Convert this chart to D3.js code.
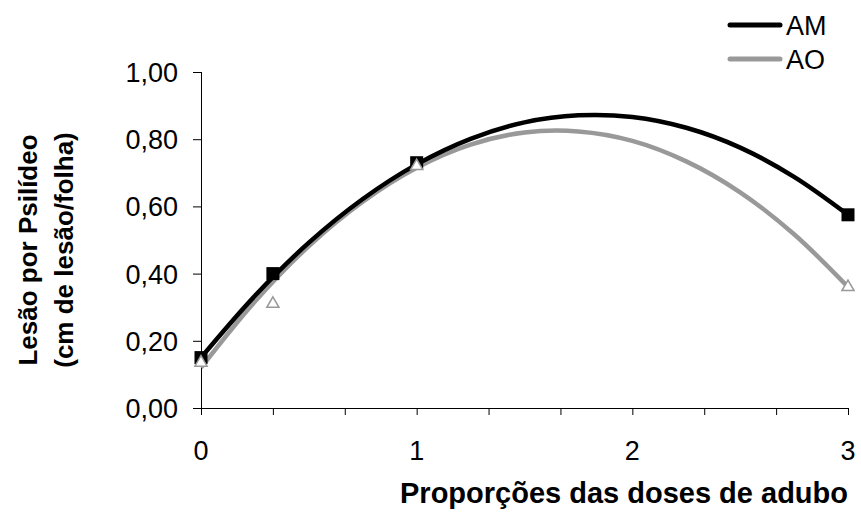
<!DOCTYPE html>
<html>
<head>
<meta charset="utf-8">
<script src="https://cdn.jsdelivr.net/npm/d3@7"></script>
<style>
	body { margin: 0; background: #fff; }
	text { font-family: "Liberation Sans", Arial, sans-serif; fill: #000; }
	.tick-label { font-size: 27px; }
	.title { font-size: 29px; font-weight: bold; }
	.ytitle { font-size: 26px; font-weight: bold; }
</style>
</head>
<body>
<svg id="chart" width="861" height="517"></svg>
<script>
// observed means
const doses = [0, 1 / 3, 1, 3];
const amValues = [0.15, 0.40, 0.73, 0.575];
const aoValues = [0.135, 0.31, 0.72, 0.36];

// trend lines
const trendX = [0, 0.25, 0.5, 0.75, 1, 1.25, 1.5, 1.75, 2, 2.25, 2.5, 2.75, 3];
const amTrend = [0.15, 0.334, 0.492, 0.622, 0.725, 0.801, 0.85, 0.871, 0.866, 0.834, 0.775, 0.688, 0.575];
const aoTrend = [0.12, 0.317, 0.482, 0.614, 0.715, 0.784, 0.82, 0.823, 0.795, 0.734, 0.642, 0.517, 0.36];

const xTicks = [0, 1, 2, 3];
const yTicks = [0, 0.2, 0.4, 0.6, 0.8, 1.0];

const series = [
	{name: "AM", color: "#000000", trend: amTrend, points: amValues},
	{name: "AO", color: "#999999", trend: aoTrend, points: aoValues}
];

const plotLeft = 201,
	plotRight = 848,
	plotTop = 72,
	plotBottom = 408;

const xScale = d3.scaleLinear()
	.domain([0, 3])
	.range([plotLeft, plotRight]);

const yScale = d3.scaleLinear()
	.domain([0, 1])
	.range([plotBottom, plotTop]);

const line = d3.line()
	.x(d => xScale(d.x))
	.y(d => yScale(d.y))
	.curve(d3.curveCatmullRom);

const chart = d3.select("#chart");

// x axis: minor ticks every 1/3, labels on integers
const xAxis = chart.append("g")
	.attr("transform", `translate(0,${plotBottom})`)
	.call(d3.axisBottom(xScale)
		.tickValues(d3.range(0, 10).map(i => i / 3))
		.tickSize(7)
		.tickFormat(""));
xAxis.select(".domain").attr("d", `M${plotLeft},0.5H${plotRight}`);

chart.selectAll("text.xlab")
	.data(xTicks)
	.join("text")
	.attr("class", "tick-label xlab")
	.attr("x", d => xScale(d))
	.attr("y", 460)
	.attr("text-anchor", "middle")
	.text(d => d);

// y axis
const yAxis = chart.append("g")
	.attr("transform", `translate(${plotLeft},0)`)
	.call(d3.axisLeft(yScale)
		.tickValues(yTicks)
		.tickSize(8)
		.tickFormat(""));
yAxis.select(".domain").attr("d", `M0.5,${plotTop}V${plotBottom}`);

chart.selectAll("text.ylab")
	.data(yTicks)
	.join("text")
	.attr("class", "tick-label ylab")
	.attr("x", 178)
	.attr("y", d => yScale(d) + 10)
	.attr("text-anchor", "end")
	.text(d => d3.format(".2f")(d).replace(".", ","));

chart.selectAll(".tick line").attr("stroke", "#000");
chart.selectAll(".domain").attr("stroke", "#000");

// trend lines
chart.selectAll("path.trend")
	.data(series.slice().reverse())
	.join("path")
	.attr("class", "trend")
	.attr("fill", "none")
	.attr("stroke", d => d.color)
	.attr("stroke-width", 4.5)
	.attr("d", d => line(trendX.map((x, i) => ({x: x, y: d.trend[i]}))));

// markers
chart.selectAll("rect.am")
	.data(amValues)
	.join("rect")
	.attr("class", "am")
	.attr("x", (d, i) => xScale(doses[i]) - 6.5)
	.attr("y", d => yScale(d) - 6.5)
	.attr("width", 13)
	.attr("height", 13)
	.attr("fill", "#000");

const tri = d3.symbol().type(d3.symbolTriangle).size(64);
chart.selectAll("path.ao")
	.data(aoValues)
	.join("path")
	.attr("class", "ao")
	.attr("transform", (d, i) => `translate(${xScale(doses[i])},${yScale(d)})`)
	.attr("d", tri)
	.attr("fill", "#fff")
	.attr("stroke", "#999999")
	.attr("stroke-width", 1.5);

// legend
const legend = chart.selectAll("g.legend")
	.data(series)
	.join("g")
	.attr("class", "legend")
	.attr("transform", (d, i) => `translate(730,${25 + i * 34})`);
legend.append("line")
	.attr("x1", 0)
	.attr("x2", 50)
	.attr("stroke", d => d.color)
	.attr("stroke-width", 5)
	.attr("stroke-linecap", "round");
legend.append("text")
	.attr("class", "tick-label")
	.attr("x", 56)
	.attr("y", 10)
	.text(d => d.name);

// axis titles
chart.append("text")
	.attr("class", "title")
	.attr("x", 848)
	.attr("y", 503)
	.attr("text-anchor", "end")
	.text("Proporções das doses de adubo");

const yTitle = chart.append("text")
	.attr("class", "ytitle")
	.attr("transform", "translate(0,250) rotate(-90)")
	.attr("text-anchor", "middle");
yTitle.append("tspan").attr("x", 0).attr("y", 37).text("Lesão por Psilídeo");
yTitle.append("tspan").attr("x", 0).attr("y", 73).text("(cm de lesão/folha)");
</script>
</body>
</html>
